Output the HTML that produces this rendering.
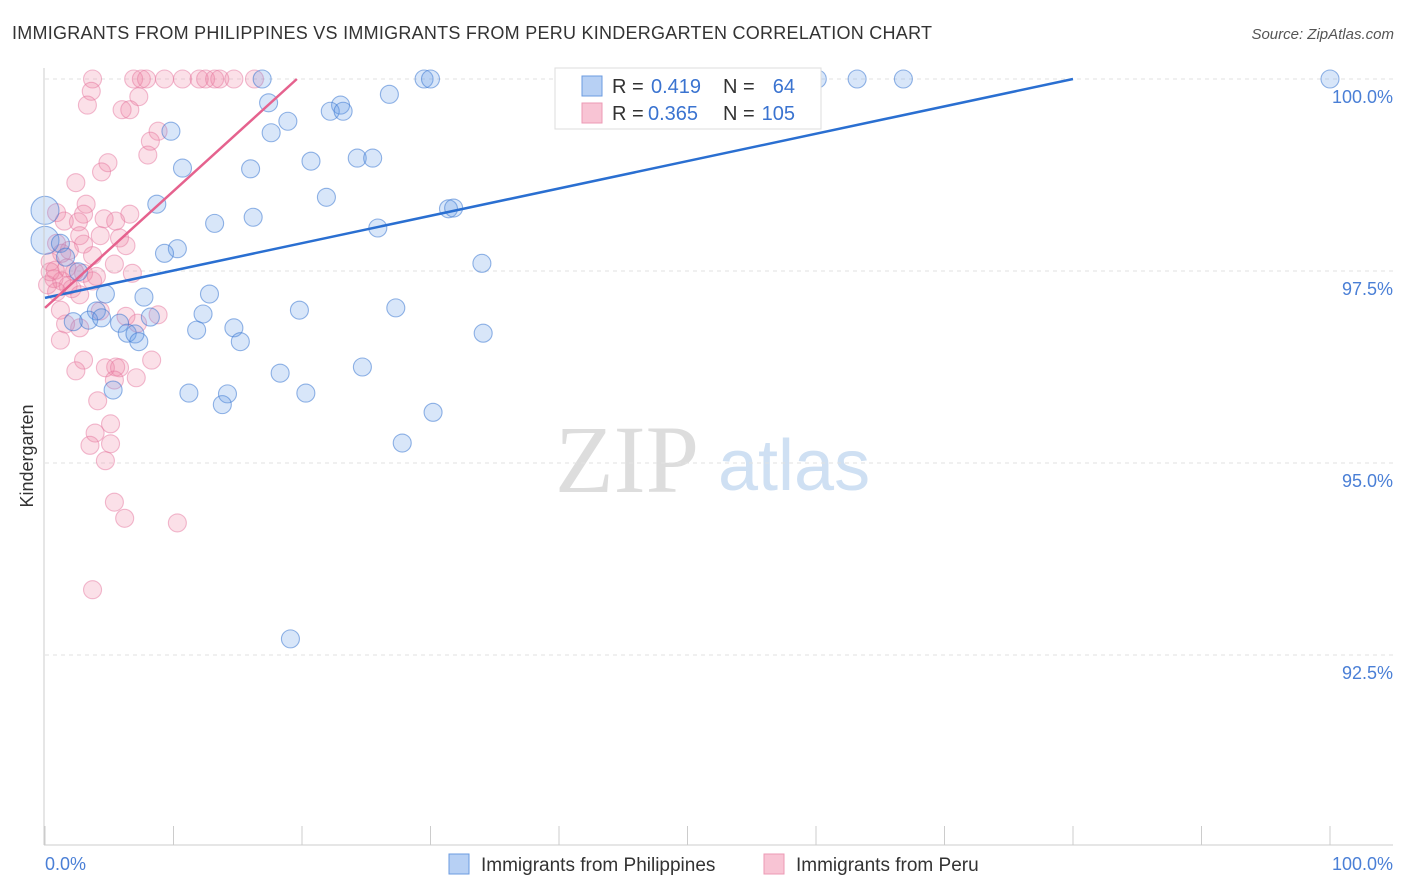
<!DOCTYPE html>
<html><head><meta charset="utf-8"><style>
body{margin:0;background:#fff;font-family:"Liberation Sans",sans-serif}
svg{display:block}
</style></head><body>
<svg id="c" width="1406" height="892">
<text x="12" y="39" font-size="18" fill="#333" textLength="920">IMMIGRANTS FROM PHILIPPINES VS IMMIGRANTS FROM PERU KINDERGARTEN CORRELATION CHART</text>
<text x="1394" y="39" font-size="15" fill="#555" text-anchor="end" font-style="italic">Source: ZipAtlas.com</text>
<text x="33" y="456" font-size="18" fill="#333" text-anchor="middle" transform="rotate(-90 33 456)">Kindergarten</text>
<text x="555" y="492" font-size="96" fill="#ddd" font-family="Liberation Serif,serif">ZIP</text>
<text x="718" y="490" font-size="72" fill="#cfe0f3">atlas</text>
<g id="grid"></g><g id="pts"></g><g id="lines"></g>
<line x1="44" y1="68" x2="44" y2="845" stroke="#ccc"/>
<line x1="44" y1="845" x2="1393" y2="845" stroke="#ccc"/>
<text x="45" y="870" font-size="18" fill="#4a7fd6">0.0%</text>
<text x="1393" y="870" font-size="18" fill="#4a7fd6" text-anchor="end">100.0%</text>
<g>
<rect x="555" y="68" width="266" height="61" fill="#fff" stroke="#ddd"/>
<rect x="582" y="76" width="20" height="20" fill="#b7d0f4" stroke="#6b9be0"/>
<rect x="582" y="103" width="20" height="20" fill="#f8c4d4" stroke="#ec9ab5"/>
<text x="612" y="93" font-size="20" fill="#333">R =</text>
<text x="651" y="93" font-size="20" fill="#3a73d0">0.419</text>
<text x="723" y="93" font-size="20" fill="#333">N =</text>
<text x="795" y="93" font-size="20" fill="#3a73d0" text-anchor="end">64</text>
<text x="612" y="120" font-size="20" fill="#333">R =</text>
<text x="648" y="120" font-size="20" fill="#3a73d0">0.365</text>
<text x="723" y="120" font-size="20" fill="#333">N =</text>
<text x="795" y="120" font-size="20" fill="#3a73d0" text-anchor="end">105</text>
</g>
<g>
<rect x="449" y="854" width="20" height="20" fill="#b7d0f4" stroke="#6b9be0"/>
<text x="481" y="871" font-size="19" fill="#333">Immigrants from Philippines</text>
<rect x="764" y="854" width="20" height="20" fill="#f8c4d4" stroke="#ec9ab5"/>
<text x="796" y="871" font-size="19" fill="#333">Immigrants from Peru</text>
</g>
</svg>
<script>
const yTicks=[100,97.5,95,92.5];
const yTickLabels=["100.0%","97.5%","95.0%","92.5%"];
const xTicks=[0,10,20,30,40,50,60,70,80,90,100];
const blueX=[16.9,29.5,30.0,60.1,63.2,66.8,100,26.8,17.4,23.0,22.2,23.2,18.9,9.8,17.6,20.7,24.3,25.5,10.7,16.0,21.9,8.7,31.4,31.8,16.2,13.2,25.9,0,0,10.3,9.3,34.0,2.6,4.7,7.7,12.8,19.8,27.3,4.0,3.4,4.4,12.3,8.2,5.8,11.8,14.7,6.4,7.0,7.3,15.2,34.1,2.2,18.3,24.7,5.3,11.2,14.2,20.3,13.8,30.2,27.8,19.1,1.2,1.6];
const blueY=[100,100,100,100,100,100,100,99.80,99.69,99.66,99.58,99.58,99.45,99.32,99.30,98.93,98.97,98.97,98.84,98.83,98.46,98.37,98.31,98.32,98.20,98.12,98.06,98.29,97.90,97.79,97.73,97.60,97.49,97.20,97.16,97.20,96.99,97.02,96.98,96.86,96.89,96.94,96.90,96.82,96.73,96.76,96.69,96.68,96.58,96.58,96.69,96.84,96.17,96.25,95.95,95.91,95.90,95.91,95.76,95.66,95.26,92.71,97.86,97.68];
const pinkX=[3.7,6.9,7.5,7.9,9.3,10.7,12.0,12.5,13.2,13.6,14.7,16.3,3.6,7.3,3.3,6.0,6.6,8.8,8.2,8.0,4.9,4.4,2.4,3.2,0.9,6.6,3.0,4.6,2.6,5.5,1.5,2.7,4.3,5.8,0.9,3.0,6.3,1.9,1.3,3.7,5.4,0.4,6.8,3.0,4.0,2.3,0.7,1.3,0.2,1.8,2.1,3.7,0.9,2.7,4.3,1.2,6.3,8.8,1.6,7.2,2.7,1.2,8.3,3.0,5.5,2.4,4.7,5.8,7.1,5.4,4.1,3.9,5.1,5.1,3.5,4.7,5.4,6.2,10.3,3.7,0.4,0.8,1.7];
const pinkY=[100,100,100,100,100,100,100,100,100,100,100,100,99.84,99.77,99.66,99.60,99.60,99.32,99.19,99.01,98.91,98.79,98.65,98.37,98.26,98.24,98.24,98.18,98.14,98.15,98.15,97.96,97.96,97.93,97.86,97.85,97.83,97.77,97.73,97.70,97.59,97.62,97.47,97.47,97.43,97.49,97.40,97.37,97.32,97.31,97.27,97.37,97.23,97.19,96.98,96.99,96.91,96.93,96.81,96.82,96.76,96.60,96.34,96.34,96.25,96.20,96.24,96.24,96.11,96.08,95.81,95.39,95.51,95.25,95.23,95.03,94.49,94.28,94.22,93.35,97.49,97.51,97.54];
const blueTrendX=[0,80];const blueTrendY=[97.15,100];
const pinkTrendX=[0,19.6];const pinkTrendY=[97.02,100];
const NS="http://www.w3.org/2000/svg";
const sx=v=>45+v*12.85;
const sy=v=>79+(100-v)/2.5*192;
function mk(t,a,p){const e=document.createElementNS(NS,t);for(const k in a)e.setAttribute(k,a[k]);p.appendChild(e);return e;}
const g=document.getElementById('grid');
yTicks.forEach((v,i)=>{
 const l=mk('line',{x1:45,x2:1393,y1:sy(v),y2:sy(v),stroke:'#e2e2e2','stroke-dasharray':'4,4'},g);
 
 
 const t=mk('text',{x:1393,y:sy(v)+24,'font-size':18,fill:'#4a7fd6','text-anchor':'end'},g);
 t.textContent=yTickLabels[i];
 
 
});
xTicks.forEach(v=>{
 const l=mk('line',{x1:sx(v),x2:sx(v),y1:826,y2:845,stroke:'#ccc'},g);
 
 
});
const p=document.getElementById('pts');
pinkX.forEach((x,i)=>{
 const c=mk('circle',{cx:sx(x),cy:sy(pinkY[i]),r:9,fill:'rgba(240,130,165,0.25)',stroke:'rgba(230,120,160,0.5)','stroke-width':1.1},p);
 
 
});
blueX.forEach((x,i)=>{
 const big=(i===27||i===28);
 const c=mk('circle',{cx:sx(x),cy:sy(blueY[i]),r:big?14:9,fill:'rgba(100,155,230,0.25)',stroke:'rgba(60,120,210,0.55)','stroke-width':1.1},p);
 
 
});
const L=document.getElementById('lines');
const b=mk('line',{x1:sx(blueTrendX[0]),y1:sy(blueTrendY[0]),x2:sx(blueTrendX[1]),y2:sy(blueTrendY[1]),stroke:'#2a6fd1','stroke-width':2.5},L);


const k=mk('line',{x1:sx(pinkTrendX[0]),y1:sy(pinkTrendY[0]),x2:sx(pinkTrendX[1]),y2:sy(pinkTrendY[1]),stroke:'#e5628e','stroke-width':2.5},L);


</script>
</body></html>
